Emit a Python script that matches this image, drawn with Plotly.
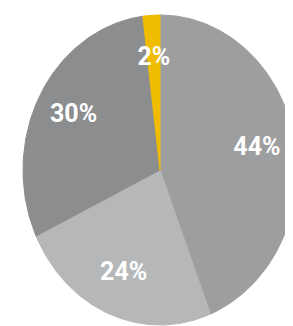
import numpy as np
import plotly.graph_objects as go

# Data (clockwise from 12 o'clock)
labels = ["A", "B", "C", "D"]
values = [44, 24, 30, 2]
text_labels = ["44%", "24%", "30%", "2%"]
colors = ["#9d9ea0", "#b5b7b9", "#8b8d8f", "#f0bc00"]

total = sum(values)
fig = go.Figure()

start = 0.0
label_r = 0.72
lx, ly = [], []
for lab, v, c in zip(labels, values, colors):
    frac = v / total
    a0 = start * 2 * np.pi
    a1 = (start + frac) * 2 * np.pi
    n = max(4, int(400 * frac))
    ang = np.linspace(a0, a1, n)
    xs = np.concatenate([[0], np.sin(ang), [0]])
    ys = np.concatenate([[0], np.cos(ang), [0]])
    fig.add_trace(go.Scatter(
        x=xs, y=ys, mode="lines", fill="toself", fillcolor=c,
        line=dict(color=c, width=1), hoverinfo="skip", showlegend=False,
        name=lab,
    ))
    mid = (a0 + a1) / 2
    lx.append(label_r * np.sin(mid))
    ly.append(label_r * np.cos(mid))
    start += frac

fig.add_trace(go.Scatter(
    x=lx, y=ly, mode="text", text=text_labels,
    textfont=dict(family="Roboto, sans-serif", size=25, color="white", weight="bold"),
    hoverinfo="skip", showlegend=False,
))

# page body has an 8px margin; size the figure to fit the window
W, H = 285, 318
cx, cy, rx, ry = 152, 162, 137, 155
fig.update_layout(
    width=W, height=H,
    margin=dict(l=0, r=0, t=0, b=0),
    paper_bgcolor="white", plot_bgcolor="white",
    xaxis=dict(range=[-cx / rx, (W - cx) / rx], visible=False, fixedrange=True),
    yaxis=dict(range=[-(H - cy) / ry, cy / ry], visible=False, fixedrange=True),
)
fig.write_html("out.html", config={"displayModeBar": False})
